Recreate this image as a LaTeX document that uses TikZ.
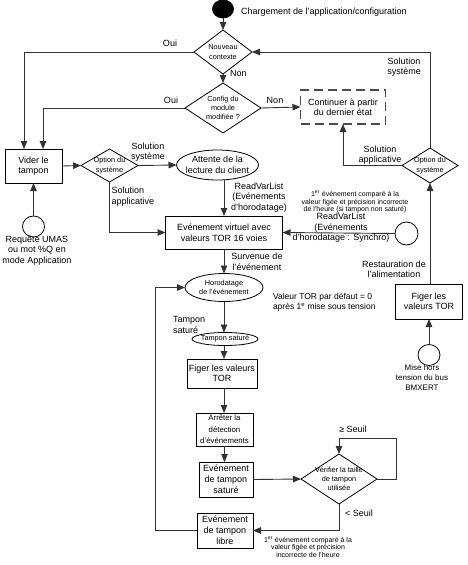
\documentclass[tikz,border=0pt]{standalone}
\usepackage{fontspec}
\setmainfont{Liberation Sans}
\usetikzlibrary{shapes.geometric,arrows.meta}
\newcommand{\txtmain}{\fontsize{9}{10.5}\selectfont}
\newcommand{\txtthree}{\fontsize{9}{11}\selectfont}
\newcommand{\txtdia}{\fontsize{7.3}{9.3}\selectfont}
\newcommand{\txtsmall}{\fontsize{7.8}{11.5}\selectfont}
\newcommand{\txtnote}{\fontsize{7}{7.8}\selectfont}
\newcommand{\txtval}{\fontsize{8.5}{10}\selectfont}
\begin{document}
\begin{tikzpicture}[x=1pt,y=-1pt,
  every node/.style={inner sep=0pt,outer sep=0pt},
  ln/.style={line width=0.9pt,draw=black!80},
  arr/.style={ln,-{Triangle[length=8pt,width=6.5pt]}},
  box/.style={draw,line width=0.8pt,rectangle,align=center,font=\txtmain},
  dia/.style={draw,line width=0.8pt,shape=diamond},
  ell/.style={draw,line width=0.8pt,shape=ellipse},
  lbl/.style={font=\txtmain,align=center},
  dlab/.style={font=\txtdia,align=center},
  ]
\useasboundingbox (0,0) rectangle (468,565);

% ---- nodes ----
\node[ell,fill=black,minimum width=21,minimum height=18] (start) at (223,9) {};
\node[lbl,anchor=west] (chg) at (241,12) {Chargement de l'application/configuration};
\node[dia,minimum width=58,minimum height=44,label={[dlab]center:Nouveau\\contexte}] (nc) at (223,52) {};
\node[dia,minimum width=76,minimum height=50,label={[dlab]center:Config du\\module\\modifiée ?}] (cfg) at (223,108) {};
\node[box,draw=black!70,line width=1.2pt,dash pattern=on 9pt off 5pt,minimum width=85,minimum height=34] (cont) at (343,107) {Continuer à partir\\du dernier état};

\node[box,minimum width=57,minimum height=34] (vider) at (33.5,166) {Vider le\\tampon};
\node[ell,minimum width=22,minimum height=21] (c1) at (33.5,226.5) {};
\node[lbl] (req) at (37,250.5) {Requête UMAS\\ou mot \%Q en\\mode Application};
\node[dia,minimum width=57,minimum height=33,label={[dlab]center:Option du\\système}] (opt1) at (109.5,165.5) {};
\node[ell,minimum width=82,minimum height=30,label={[lbl]center:Attente de la\\lecture du client}] (att) at (217.5,165) {};
\node[box,minimum width=117,minimum height=33] (virt) at (224,232.5) {Evénement virtuel avec\\valeurs TOR 16 voies};
\node[ell,minimum width=23,minimum height=23] (c2) at (406.5,233.5) {};

\node[dia,minimum width=56,minimum height=35,label={[dlab]center:Option du\\système}] (opt2) at (430,165.5) {};
\node[box,minimum width=67,minimum height=35] (fig1) at (429,301.5) {Figer les\\valeurs TOR};
\node[ell,minimum width=22,minimum height=21] (c3) at (429,355) {};
\node[font=\fontsize{8}{10}\selectfont,align=center] (mise) at (422,378) {Mise hors\\tension du bus\\BMXERT};

\node[ell,minimum width=78,minimum height=28,label={[dlab]center:Horodatage\\de l'événement}] (horo) at (224,287.5) {};
\node[ell,minimum width=66,minimum height=13,label={[dlab]center:Tampon saturé}] (tsat) at (225,339) {};
\node[box,minimum width=70,minimum height=29] (fig2) at (222,373.5) {Figer les valeurs\\TOR};
\node[box,minimum width=57,minimum height=33,font=\txtsmall] (arret) at (224.5,429.5) {Arrêter la\\détection\\d'événements};
\node[box,minimum width=54,minimum height=35,font=\txtthree] (sat) at (226,479.5) {Evénement\\de tampon\\saturé};
\node[box,minimum width=56,minimum height=35,font=\txtthree] (libre) at (225,530.5) {Evénement\\de tampon\\libre};
\node[dia,minimum width=76,minimum height=50,label={[dlab]center:Vérifier la taille\\de tampon\\utilisée}] (ver) at (339,479) {};

% ---- helper coordinates ----
\coordinate (lb) at (155,530.5);
\coordinate (lp) at (396,438);

% ---- connectors ----
\draw[arr] (start) -- (nc.north);
\draw[arr] (nc.west) -| ([xshift=-9.5pt]vider.north);
\draw[arr] (nc.south) -- (cfg.north);
\draw[arr] (cfg.west) -| ([xshift=9.5pt]vider.north);
\draw[arr] (cfg.east) -- (cont.west);
\draw[arr] (c1.north) -- (vider.south);
\draw[arr] (vider.east) -- (opt1.west);
\draw[arr] (opt1.east) -- (att.west);
\draw[arr] (opt1.south) |- (virt.west);
\draw[arr] (virt.north |- att.south) -- (virt.north);
\draw[arr] (c2.west) -- (virt.east);
\draw[arr] (virt.south) -- (horo.north);
\draw[arr] (horo.south) -- (horo.south |- tsat.north);
\draw[arr] (horo.south |- tsat.south) -- (horo.south |- fig2.north);
\draw[arr] (horo.south |- fig2.south) -- (horo.south |- arret.north);
\draw[arr] (arret.south) -- (arret.south |- sat.north);
\draw[arr] (sat.east) -- (ver.west);
\draw[arr] (ver.east) -| (lp) -| (ver.north);
\draw[arr] (ver.south) |- (libre.east);
\draw[arr] (libre.west) -- (lb) |- (horo.west);
\draw[arr] (c3.north) -- (fig1.south);
\draw[arr] (opt2.south |- fig1.north) -- (opt2.south);
\draw[arr] (opt2.north) |- (nc.east);
\draw[arr] (opt2.west) -| (cont.south);

% ---- labels ----
\node[lbl] (oui1) at (170,43) {Oui};
\node[lbl] (oui2) at (171,100) {Oui};
\node[lbl,anchor=west] (non1) at (230,73) {Non};
\node[lbl] (non2) at (275,100) {Non};
\node[lbl] (solsys1) at (148,152) {Solution\\système};
\node[lbl,anchor=north west,align=left] (solapp1) at (111.5,187) {Solution\\applicative};
\node[lbl] (rvl1) at (259,197.5) {ReadVarList\\(Evénements\\d'horodatage)};
\node[lbl] (rvl2) at (341,228) {ReadVarList\\(Evénements\\d'horodatage : Synchro)};
\node[lbl] (surv) at (257,262) {Survenue de\\l'événement};
\node[lbl,anchor=west,align=left] (tsl) at (173,325) {Tampon\\saturé};
\node[lbl] (rest) at (394,269.5) {Restauration de\\l'alimentation};
\node[lbl] (solsys2) at (404,67) {Solution\\système};
\node[lbl] (solapp2) at (380,155) {Solution\\applicative};
\node[lbl] (sup) at (353,429) {≥ Seuil};
\node[lbl] (inf) at (359,513) {< Seuil};
\node[font=\txtnote,align=center] (note1) at (355,202) {1\textsuperscript{er} événement comparé à la\\valeur figée et précision incorrecte\\de l'heure (si tampon non saturé)};
\node[font=\txtnote,align=center] (note2) at (308,547) {1\textsuperscript{er} événement comparé à la\\valeur figée et précision\\incorrecte de l'heure};
\node[font=\txtval,align=left,anchor=west] (val) at (273,302) {Valeur TOR par défaut = 0\\après 1\textsuperscript{e} mise sous tension};
\end{tikzpicture}
\end{document}
